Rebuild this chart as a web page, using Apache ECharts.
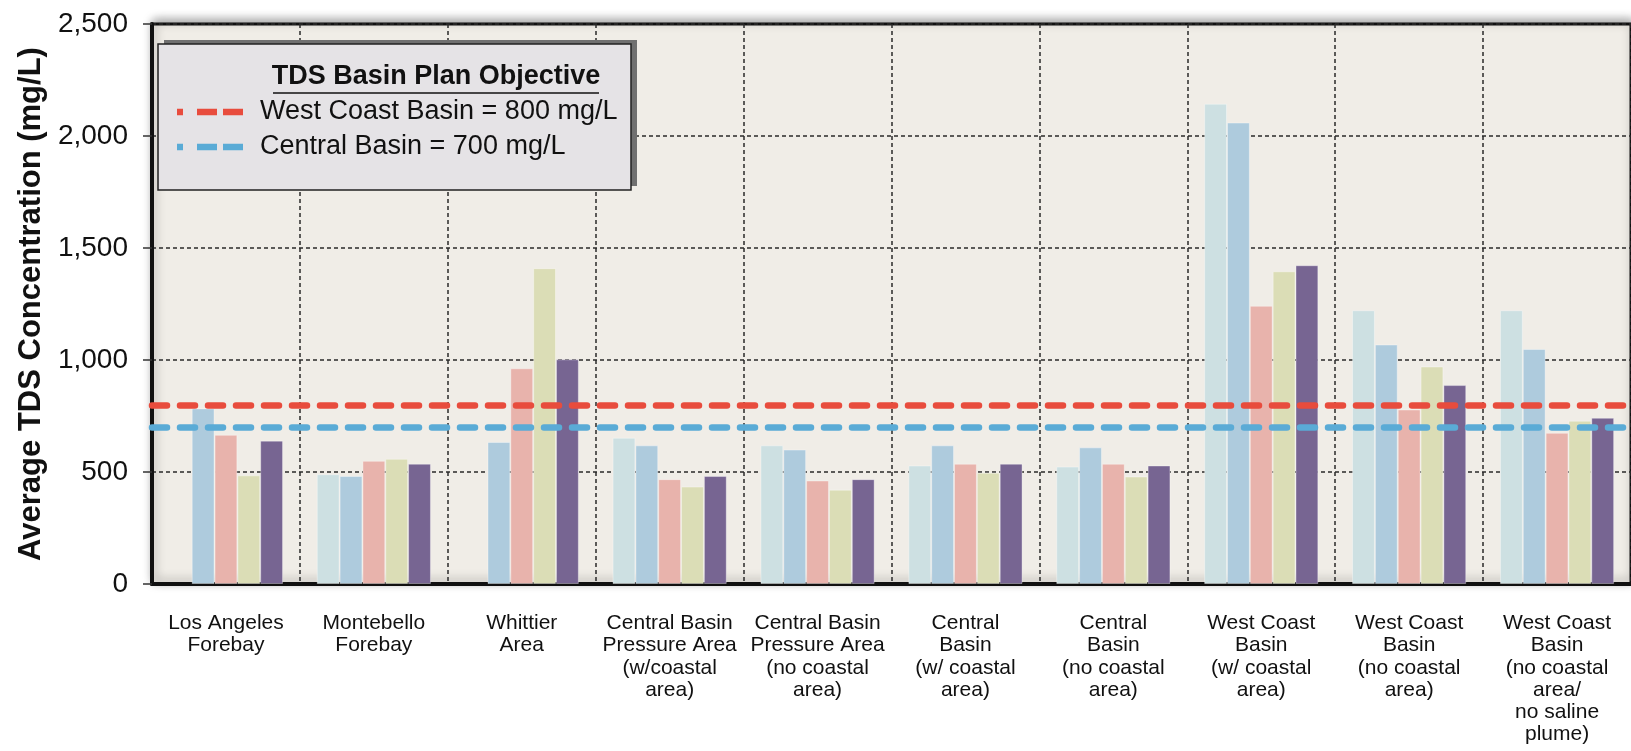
<!DOCTYPE html>
<html>
<head>
<meta charset="utf-8">
<title>Average TDS Concentration</title>
<script src="https://cdn.jsdelivr.net/npm/echarts@6/dist/echarts.min.js"></script>
<style>
  body{margin:0;background:#fff;}
  #chart{width:1631px;height:751px;}
</style>
</head>
<body>
<div id="chart"></div>
<script>
// categories along x
const areas = ['Los Angeles\nForebay','Montebello\nForebay','Whittier\nArea',
  'Central Basin\nPressure Area\n(w/coastal\narea)','Central Basin\nPressure Area\n(no coastal\narea)',
  'Central\nBasin\n(w/ coastal\narea)','Central\nBasin\n(no coastal\narea)',
  'West Coast\nBasin\n(w/ coastal\narea)','West Coast\nBasin\n(no coastal\narea)',
  'West Coast\nBasin\n(no coastal\narea/\nno saline\nplume)']

// five bar series (mg/L)
const bar1 = [null, 490, null, 653, 619, 529, 524, 2144, 1222, 1222]
const bar2 = [784, 482, 634, 619, 600, 619, 610, 2060, 1069, 1049]
const bar3 = [666, 550, 963, 468, 462, 537, 537, 1242, 779, 675]
const bar4 = [485, 559, 1410, 435, 421, 497, 480, 1396, 971, 729]
const bar5 = [640, 537, 1003, 482, 468, 537, 529, 1423, 888, 742]

// basin plan objectives
const objNames = ['West Coast Basin = 800 mg/L','Central Basin = 700 mg/L']
const objValues = [800, 700]

const yTicks = [0, 500, 1000, 1500, 2000, 2500]

const barColors = ['#cde0e2','#aecbdd','#e8b3ac','#dbddb6','#776592']
const objColors = ['#e84c3d','#5aabd6']
const font = "'Liberation Sans', Arial, Helvetica, sans-serif"

const myChart = echarts.init(document.querySelector('#chart'))

const dashGrid = {show:true, lineStyle:{color:'#2a2a2a', width:1.5, type:[4,3]}}

function barSeries(name, data, i){
  return {
    name: name,
    type: 'bar',
    data: data,
    barGap: '0%',
    barCategoryGap: '22.8%',
    itemStyle: {color: barColors[i], borderColor:'rgba(255,255,255,0.35)', borderWidth:1},
    emphasis: {disabled:true}
  }
}

const series = [
  barSeries('Bar 1', bar1, 0),
  barSeries('Bar 2', bar2, 1),
  barSeries('Bar 3', bar3, 2),
  barSeries('Bar 4', bar4, 3),
  barSeries('Bar 5', bar5, 4)
]
// objective lines go on top of all bars
series[4].markLine = {
  silent: true,
  symbol: ['none','none'],
  label: {show:false},
  data: objValues.map((v,i)=>({
    name: objNames[i],
    yAxis: v,
    lineStyle: {color: objColors[i], width:6.5, type:[15,13], cap:'round'}
  }))
}

const option = {
  animation: false,
  textStyle: {fontFamily: font},
  grid: {
    left: 152, right: -5, top: 24, bottom: 167,
    show: true,
    backgroundColor: '#f0ede7',
    borderColor: '#111',
    borderWidth: 3,
    shadowColor: 'rgba(0,0,0,0.35)',
    shadowBlur: 10,
    shadowOffsetX: 2,
    shadowOffsetY: -3
  },
  xAxis: {
    type: 'category',
    data: areas,
    axisLine: {lineStyle:{color:'#111', width:4}},
    axisTick: {length:8, lineStyle:{color:'#333', width:1.5}},
    axisLabel: {interval:0, fontSize:21, lineHeight:22.3, margin:28, color:'#111', fontFamily:font},
    splitLine: dashGrid
  },
  yAxis: {
    type: 'value',
    min: yTicks[0],
    max: yTicks[yTicks.length-1],
    interval: yTicks[1]-yTicks[0],
    name: 'Average TDS Concentration (mg/L)',
    nameLocation: 'middle',
    nameRotate: 90,
    nameGap: 103,
    nameTextStyle: {fontSize:31, fontWeight:'bold', color:'#111', fontFamily:font},
    axisLine: {show:true, lineStyle:{color:'#111', width:4}},
    axisTick: {show:true, length:9, lineStyle:{color:'#333', width:1.5}},
    axisLabel: {fontSize:28, margin:24, color:'#111', fontFamily:font,
      formatter: v => v.toLocaleString('en-US')},
    splitLine: dashGrid
  },
  series: series,
  graphic: [
    {type:'rect', z:100, shape:{x:164, y:40, width:473, height:146}, style:{fill:'#707070'}},
    {type:'rect', z:101, shape:{x:158, y:44, width:473, height:146},
      style:{fill:'#e5e3e6', stroke:'#222', lineWidth:1.5}},
    {type:'text', z:102, x:436, y:77,
      style:{text:'TDS Basin Plan Objective', font:"bold 27px "+font, fill:'#111',
        textAlign:'center', textVerticalAlign:'middle'}},
    {type:'line', z:102, shape:{x1:273, y1:93, x2:599, y2:93}, style:{stroke:'#111', lineWidth:1.5}},
    {type:'line', z:102, shape:{x1:177, y1:112, x2:248, y2:112},
      style:{stroke:objColors[0], lineWidth:6.5, lineDash:[6,14,20,6,20,60]}},
    {type:'text', z:102, x:260, y:112,
      style:{text:objNames[0], font:"27px "+font, fill:'#111', textVerticalAlign:'middle'}},
    {type:'line', z:102, shape:{x1:177, y1:147, x2:248, y2:147},
      style:{stroke:objColors[1], lineWidth:6.5, lineDash:[6,14,20,6,20,60]}},
    {type:'text', z:102, x:260, y:147,
      style:{text:objNames[1], font:"27px "+font, fill:'#111', textVerticalAlign:'middle'}}
  ]
}

myChart.setOption(option)
</script>
</body>
</html>
